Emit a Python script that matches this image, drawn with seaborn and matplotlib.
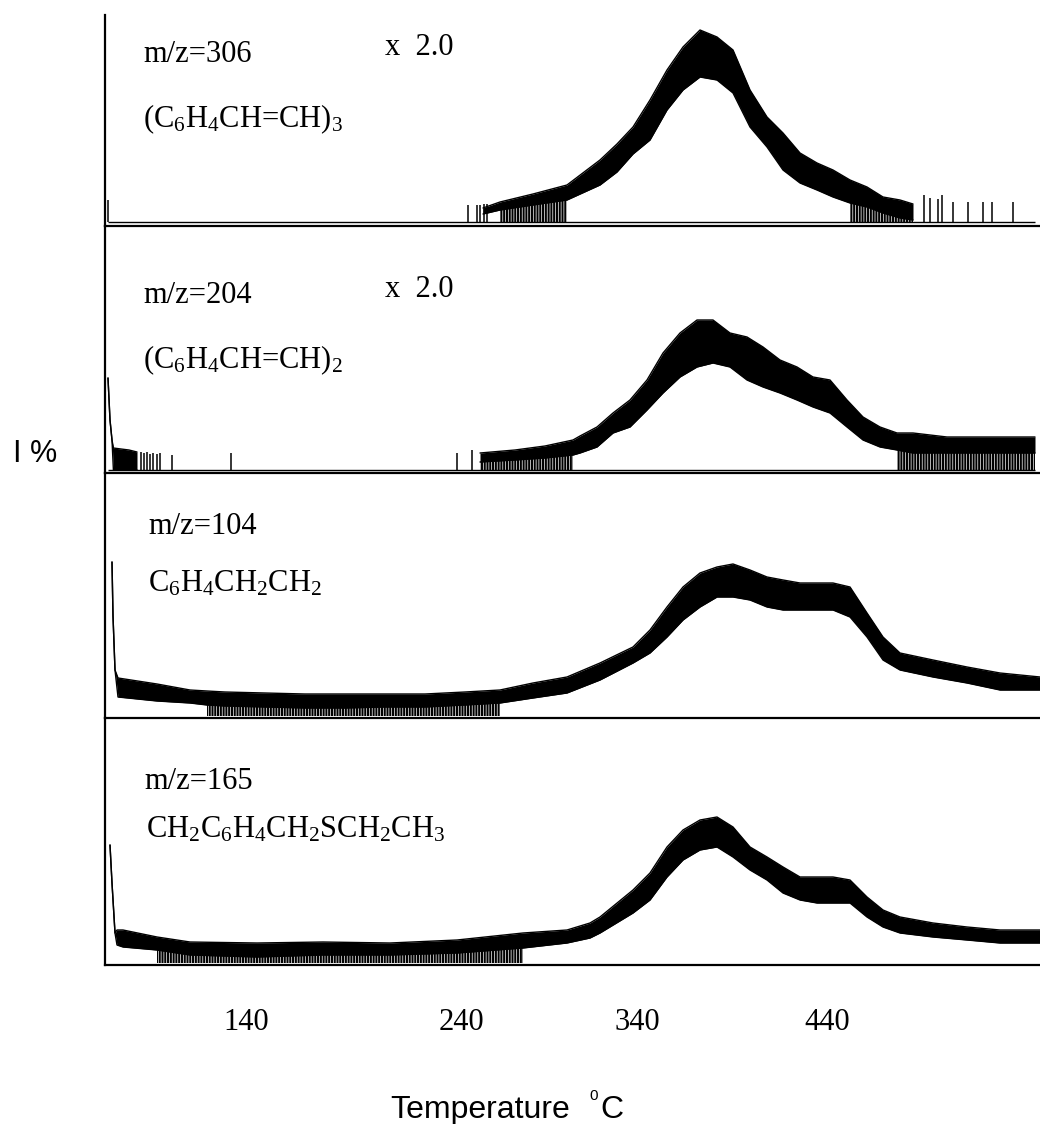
import numpy as np
import pandas as pd
import matplotlib
matplotlib.use("Agg")
import matplotlib.pyplot as plt
import seaborn as sns

# ---------------- data (x = run time in min, ~10 degC/min; y = intensity, a.u.) -------------
TICK_POS = [7.05, 17.8, 26.6, 36.1]
TICK_LABELS = ["140", "240", "340", "440"]

LABELS_MZ = ["m/z=306", "m/z=204", "m/z=104", "m/z=165"]
LABELS_FORMULA = [r"(C$_6$H$_4$CH=CH)$_3$", r"(C$_6$H$_4$CH=CH)$_2$",
                  r"C$_6$H$_4$CH$_2$CH$_2$", r"CH$_2$C$_6$H$_4$CH$_2$SCH$_2$CH$_3$"]
SCALE_LABELS = ["x  2.0", "x  2.0", "", ""]

# m/z = 306 (band: lower / upper envelope of the noisy trace)
T1 = [18.9, 19.75, 21.4, 23.1, 24.75, 25.6, 26.4, 27.25, 28.1, 28.9, 29.75, 30.6, 31.4,
      32.25, 33.1, 33.9, 34.75, 35.6, 36.4, 37.25, 38.1, 38.9, 39.75, 40.4]
LO1 = [8, 12, 17, 22, 37, 50, 68, 82, 112, 132, 145, 142, 129, 95, 75, 52, 39, 32, 25, 19,
       15, 9, 4, 2]
HI1 = [14, 20, 28, 37, 62, 78, 95, 122, 152, 175, 192, 185, 172, 132, 105, 89, 69, 59, 52,
       42, 35, 25, 22, 18]
DROP1 = [(19.75, 23.1), (37.25, 40.4)]
SPIKE_T1 = [0.15, 18.15, 18.6, 18.75, 18.95, 19.1, 40.95, 41.25, 41.65, 41.85, 42.4, 43.15,
            43.9, 44.35, 45.4]
SPIKE_H1 = [22, 17, 17, 17, 18, 18, 27, 24, 23, 27, 20, 20, 20, 20, 20]

# m/z = 204
T2A = [0.15, 0.25, 0.35, 0.42, 0.8, 1.2, 1.6]
LO2A = [92, 50, 30, 0, 0, 0, 0]
HI2A = [92, 50, 30, 22, 21, 20, 18]
T2 = [18.75, 20.5, 22.0, 23.4, 23.75, 24.6, 25.4, 26.25, 27.1, 27.9, 28.75, 29.6, 30.4,
      31.25, 32.1, 32.9, 33.75, 34.6, 35.4, 36.25, 37.1, 37.9, 38.75, 39.6, 40.4, 42.1,
      43.75, 45.5, 46.5]
LO2 = [8, 10, 12, 15, 17, 23, 37, 43, 60, 77, 93, 103, 107, 103, 90, 83, 77, 70, 63, 57,
       43, 30, 23, 20, 17, 17, 17, 17, 17]
HI2 = [17, 20, 24, 30, 34, 43, 57, 70, 90, 117, 137, 150, 150, 137, 133, 123, 110, 103, 93,
       90, 70, 53, 43, 37, 37, 33, 33, 33, 33]
DROP2 = [(18.75, 23.4), (39.6, 46.5)]
SPIKE_T2 = [1.8, 1.95, 2.1, 2.25, 2.4, 2.6, 2.75, 3.35, 6.3, 17.6, 18.35]
SPIKE_H2 = [18, 17, 18, 16, 17, 16, 17, 15, 17, 17, 20]

# m/z = 104
T3 = [0.35, 0.4, 0.5, 0.65, 2.6, 4.25, 5.1, 6.0, 8.0, 10.0, 12.0, 14.0, 16.0, 18.0, 19.75,
      21.4, 23.1, 24.75, 26.4, 27.25, 28.1, 28.9, 29.75, 30.6, 31.4, 32.25, 33.1, 33.9,
      34.75, 35.6, 36.4, 37.25, 38.1, 38.9, 39.75, 41.4, 43.1, 44.75, 46.75]
LO3 = [154, 100, 46, 19, 15, 13, 11, 10, 9, 8, 8, 9, 9, 11, 13, 18, 23, 36, 53, 63, 79, 96,
       109, 119, 119, 116, 109, 106, 106, 106, 106, 99, 79, 56, 46, 39, 33, 26, 26]
HI3 = [154, 100, 46, 38, 32, 26, 25, 24, 23, 22, 22, 22, 22, 24, 26, 33, 39, 53, 69, 86,
       109, 129, 143, 149, 152, 146, 139, 136, 133, 133, 133, 129, 103, 79, 63, 56, 49, 43, 39]
DROP3 = [(5.1, 19.75)]

# m/z = 165
T4 = [0.25, 0.35, 0.5, 0.6, 0.9, 2.6, 4.25, 7.6, 10.9, 14.25, 17.6, 20.9, 23.1, 24.25,
      24.75, 26.4, 27.25, 28.1, 28.9, 29.75, 30.6, 31.4, 32.25, 33.1, 33.9, 34.75, 35.6,
      36.4, 37.25, 38.1, 38.9, 39.75, 41.4, 43.1, 44.75, 46.75]
LO4 = [118, 80, 30, 18, 16, 13, 8, 6, 8, 8, 10, 15, 20, 25, 30, 50, 63, 86, 103, 113, 116,
       106, 93, 83, 70, 63, 60, 60, 60, 46, 36, 30, 26, 23, 20, 20]
HI4 = [118, 80, 30, 33, 33, 26, 21, 20, 21, 20, 23, 30, 33, 40, 46, 73, 90, 116, 133, 143,
       146, 136, 116, 106, 96, 86, 86, 86, 83, 66, 53, 46, 40, 36, 33, 33]
DROP4 = [(2.6, 20.9)]

# ---------------- style -------------
sns.set_theme(style="white")
plt.rcParams["font.family"] = ["Liberation Serif", "DejaVu Serif"]
plt.rcParams["mathtext.fontset"] = "custom"
plt.rcParams["mathtext.rm"] = "Liberation Serif"
plt.rcParams["mathtext.default"] = "regular"
plt.rcParams["hatch.linewidth"] = 1.5
plt.rcParams["hatch.color"] = "black"
plt.rcParams["text.color"] = "black"
plt.rcParams["axes.labelcolor"] = "black"
plt.rcParams["xtick.color"] = "black"
plt.rcParams["xtick.labelcolor"] = "black"
plt.rcParams["axes.edgecolor"] = "black"

W, H = 1040, 1124
fig = plt.figure(figsize=(W / 100, H / 100), dpi=100)
fig.patch.set_facecolor("white")

# panel geometry in pixels: (top, bottom, y-limits)
PANELS = [(15, 226, (-4, 207)), (226, 473, (-3, 244)), (473, 718, (-2, 243)), (718, 965, (-2, 245))]

bands = [
    [(T1, LO1, HI1)],
    [(T2A, LO2A, HI2A), (T2, LO2, HI2)],
    [(T3, LO3, HI3)],
    [(T4, LO4, HI4)],
]
drops = [DROP1, DROP2, DROP3, DROP4]
spikes = [(SPIKE_T1, SPIKE_H1), (SPIKE_T2, SPIKE_H2), ([], []), ([], [])]
baselines = [True, True, False, False]

axes = []
for i, (top, bot, ylim) in enumerate(PANELS):
    ax = fig.add_axes([105 / W, 1 - bot / H, 935 / W, (bot - top) / H])
    ax.set_facecolor("none")
    for (t, lo, hi) in bands[i]:
        df = pd.DataFrame({"t": t, "lo": lo, "hi": hi})
        ax.fill_between(df["t"], df["lo"], df["hi"], color="black", lw=0)
        sns.lineplot(data=df, x="t", y="hi", ax=ax, color="black", lw=1.0,
                     estimator=None, sort=False)
        sns.lineplot(data=df, x="t", y="lo", ax=ax, color="black", lw=1.0,
                     estimator=None, sort=False)
        tt = np.asarray(t, float)
        ll = np.asarray(lo, float)
        for (z0, z1) in drops[i]:
            m = (tt >= z0) & (tt <= z1)
            if m.sum() >= 2:
                ax.fill_between(tt[m], 0, ll[m], facecolor="none", edgecolor="black",
                                hatch="||||||", lw=0)
    st, sh = spikes[i]
    if len(st):
        ax.vlines(st, 0, sh, color="black", lw=1.1)
    if baselines[i]:
        ax.hlines(0, 0.15, 46.5, color="black", lw=1.0)
    ax.set_xlim(0, 46.75)
    ax.set_ylim(*ylim)
    ax.set_yticks([])
    ax.set_xlabel("")
    ax.set_ylabel("")
    for s in ["top", "right"]:
        ax.spines[s].set_visible(False)
    for s in ["left", "bottom"]:
        ax.spines[s].set_color("black")
        ax.spines[s].set_linewidth(1.6)
    if i < 3:
        ax.set_xticks([])
    else:
        ax.set_xticks(TICK_POS, TICK_LABELS)
        ax.tick_params(axis="x", length=0, pad=31, labelsize=22, labelcolor="black")
    axes.append(ax)

# ---------------- panel annotations -------------
MZ_POS = [(143, 62), (143, 303), (148, 534), (144, 789)]
FORM_POS = [(143, 127), (143, 368), (148, 592), (146, 837)]
SCALE_POS = [(385, 55), (385, 297), None, None]
for i in range(4):
    x, y = MZ_POS[i]
    fig.text(x / W, 1 - y / H, LABELS_MZ[i], fontsize=22, va="baseline", ha="left", color="black")
    x, y = FORM_POS[i]
    fig.text(x / W, 1 - y / H, LABELS_FORMULA[i], fontsize=22, va="baseline", ha="left", color="black")
    if SCALE_POS[i] is not None:
        x, y = SCALE_POS[i]
        fig.text(x / W, 1 - y / H, SCALE_LABELS[i], fontsize=22, va="baseline", ha="left", color="black")

SANS = ["Liberation Sans", "DejaVu Sans"]
fig.text(13 / W, 1 - 462 / H, "I %", family=SANS, fontsize=22, va="baseline", ha="left", color="black")
fig.text(390 / W, 1 - 1118 / H, "Temperature", family=SANS, fontsize=23, va="baseline", ha="left", color="black")
fig.text(589 / W, 1 - 1100 / H, "0", family=SANS, fontsize=11, va="baseline", ha="left", color="black")
fig.text(600 / W, 1 - 1118 / H, "C", family=SANS, fontsize=23, va="baseline", ha="left", color="black")

fig.savefig("out.png", dpi=100, facecolor="white")
